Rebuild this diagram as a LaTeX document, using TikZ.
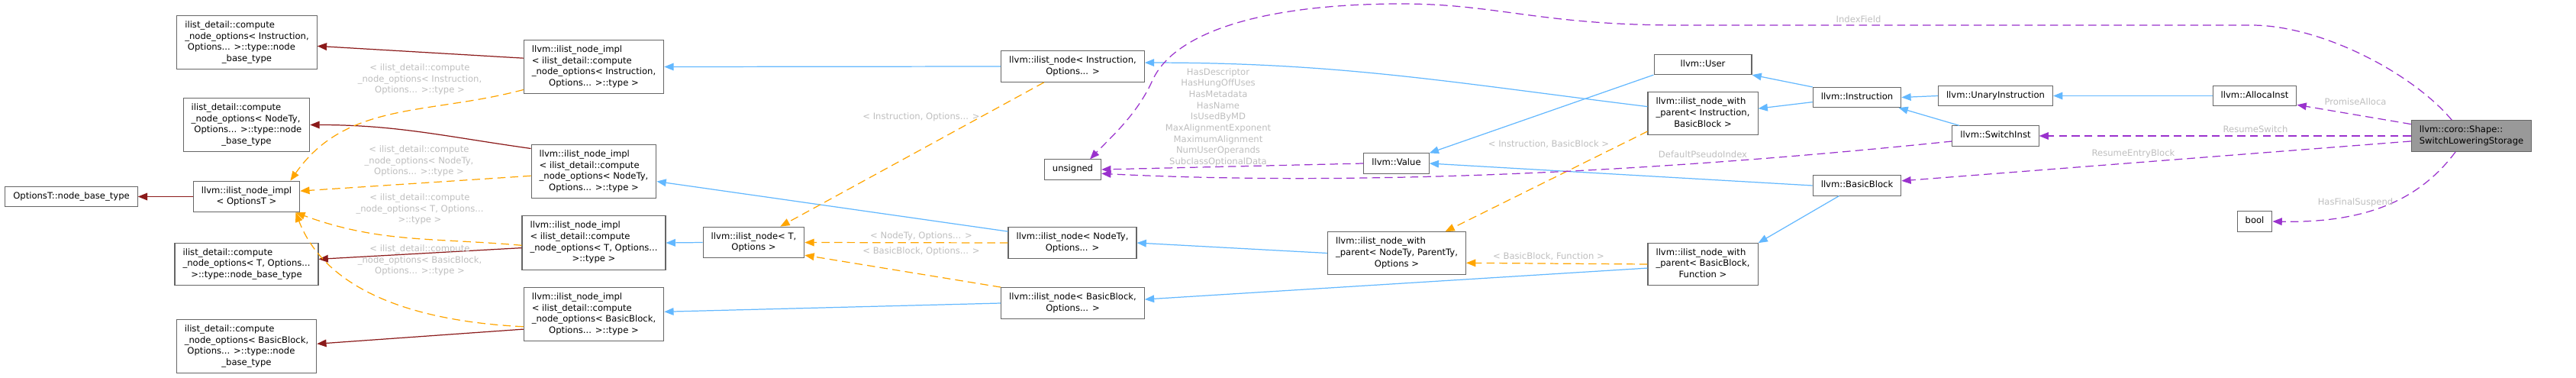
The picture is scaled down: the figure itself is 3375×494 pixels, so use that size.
\documentclass[tikz,border=0pt]{standalone}
\usepackage{fontspec}
\usepackage{tikz}
\usetikzlibrary{arrows.meta}
\newfontfamily\dxfont{DejaVu Sans}
\definecolor{edgepub}{HTML}{63B8FF}
\definecolor{edgepriv}{HTML}{8B1A1A}
\definecolor{edgetmpl}{HTML}{FFA500}
\definecolor{edgemem}{HTML}{9A32CD}
\definecolor{boxline}{HTML}{666666}
\definecolor{boxmain}{HTML}{999999}
\definecolor{lblgray}{HTML}{BEBEBE}
\newcommand{\dxtxt}{\dxfont\fontsize{6.6}{8.35}\selectfont}
% all lines left, last line centred (as dot does with \l ... \n)
\newcommand{\clsbox}[2]{\begin{tabular}{@{}l@{}}#1\\\multicolumn{1}{@{}c@{}}{#2}\end{tabular}}
\newcommand{\clsline}[1]{\begin{tabular}{@{}l@{}}#1\end{tabular}}
\tikzset{
  cls/.style  ={draw=boxline, line width=0.6pt, fill=white, font=\dxtxt,
                inner xsep=6pt, inner ysep=3.25pt},
  main/.style ={cls, fill=boxmain},
  edge/.style ={line width=0.7pt, -{Triangle[length=7pt,width=5.5pt]}},
  pub/.style  ={edge, draw=edgepub},
  priv/.style ={edge, draw=edgepriv},
  tmpl/.style ={edge, draw=edgetmpl, dash pattern=on 6pt off 3.5pt},
  mem/.style  ={edge, draw=edgemem, dash pattern=on 6pt off 3.5pt},
  lbl/.style  ={font=\dxtxt, text=lblgray, align=center, inner sep=0pt},
}

\begin{document}
\begin{tikzpicture}[x=0.02cm,y=-0.02cm]
  % one unit is one pixel of the doxygen picture, y runs downwards
  \useasboundingbox (0,0) rectangle (3375,494);

  % ---------------- left: node_options bases -------------------------------
  \node[cls] (cnoInstr)  at (323.5,55.5) {\clsbox{ilist\_detail::compute\\\_node\_options< Instruction,\\\ Options... >::type::node}{\_base\_type}};
  \node[cls] (cnoNodeTy) at (323,163.5)  {\clsbox{ilist\_detail::compute\\\_node\_options< NodeTy,\\\ Options... >::type::node}{\_base\_type}};
  \node[cls] (optBase)   at (93.5,257.5) {\clsline{OptionsT::node\_base\_type}};
  \node[cls] (implOpt)   at (323,257.5)  {\clsbox{llvm::ilist\_node\_impl}{< OptionsT >}};
  \node[cls] (cnoT)      at (323,346)    {\clsbox{ilist\_detail::compute\\\_node\_options< T, Options...}{>::type::node\_base\_type}};
  \node[cls] (cnoBB)     at (323,453.5)  {\clsbox{ilist\_detail::compute\\\_node\_options< BasicBlock,\\\ Options... >::type::node}{\_base\_type}};

  % ---------------- ilist_node_impl column ---------------------------------
  \node[cls] (implInstr)  at (778,87.5)  {\clsbox{llvm::ilist\_node\_impl\\< ilist\_detail::compute\\\_node\_options< Instruction,}{Options... >::type >}};
  \node[cls] (implNodeTy) at (778,224.5) {\clsbox{llvm::ilist\_node\_impl\\< ilist\_detail::compute\\\_node\_options< NodeTy,}{Options... >::type >}};
  \node[cls] (implT)      at (778,318)   {\clsbox{llvm::ilist\_node\_impl\\< ilist\_detail::compute\\\_node\_options< T, Options...}{>::type >}};
  \node[cls] (implBB)     at (778,411.5) {\clsbox{llvm::ilist\_node\_impl\\< ilist\_detail::compute\\\_node\_options< BasicBlock,}{Options... >::type >}};

  % ---------------- ilist_node column --------------------------------------
  \node[cls] (nodeT)      at (987.5,317.5) {\clsbox{llvm::ilist\_node< T,}{Options >}};
  \node[cls] (nodeInstr)  at (1405.5,87)   {\clsbox{llvm::ilist\_node< Instruction,}{Options... >}};
  \node[cls] (unsignedT)  at (1405.5,222)  {\clsline{unsigned}};
  \node[cls] (nodeNodeTy) at (1405,318)    {\clsbox{llvm::ilist\_node< NodeTy,}{Options... >}};
  \node[cls] (nodeBB)     at (1405.5,397)  {\clsbox{llvm::ilist\_node< BasicBlock,}{Options... >}};

  % ---------------- value / with_parent ------------------------------------
  \node[cls] (value)     at (1829.5,214) {\clsline{llvm::Value}};
  \node[cls] (withGen)   at (1830,331.5) {\clsbox{llvm::ilist\_node\_with\\\_parent< NodeTy, ParentTy,}{Options >}};
  \node[cls,minimum width=2.56cm] (user) at (2231,84.5) {\clsline{llvm::User}};
  \node[cls] (withInstr) at (2231,148.5) {\clsbox{llvm::ilist\_node\_with\\\_parent< Instruction,}{BasicBlock >}};
  \node[cls] (withBB)    at (2231,346)   {\clsbox{llvm::ilist\_node\_with\\\_parent< BasicBlock,}{Function >}};

  % ---------------- instructions, blocks, storage --------------------------
  \node[cls]  (instr)   at (2433,127.5)  {\clsline{llvm::Instruction}};
  \node[cls]  (bblock)  at (2433,243)    {\clsline{llvm::BasicBlock}};
  \node[cls]  (unary)   at (2614.5,125.5){\clsline{llvm::UnaryInstruction}};
  \node[cls]  (switchI) at (2614.5,178)  {\clsline{llvm::SwitchInst}};
  \node[cls]  (alloca)  at (2954,125.5)  {\clsline{llvm::AllocaInst}};
  \node[cls]  (boolT)   at (2954,290)    {\clsline{bool}};
  \node[main] (shape)   at (3238,178)    {\clsbox{llvm::coro::Shape::}{SwitchLoweringStorage}};

  % ---------------- private bases ------------------------------------------
  \draw[priv] (implInstr.173) -- (cnoInstr.-3);
  \draw[priv] (implNodeTy.160) to[out=172,in=0] (cnoNodeTy.east);
  \draw[priv] (implOpt.west) -- (optBase.east);
  \draw[priv] (implT.184) -- (cnoT.4);
  \draw[priv] (implBB.192) -- (cnoBB.2);

  % ---------------- public bases -------------------------------------------
  \draw[pub] (nodeInstr.west) -- (implInstr.east);
  \draw[pub] (nodeNodeTy.170) -- (implNodeTy.-9);
  \draw[pub] (nodeT.west) -- (implT.east);
  \draw[pub] (nodeBB.west) -- (implBB.2);
  \draw[pub] (withInstr.173) to[out=173,in=0] (nodeInstr.3);
  \draw[pub] (withGen.west) -- (nodeNodeTy.east);
  \draw[pub] (withBB.184) -- (nodeBB.3);
  \draw[pub] (user.south west) -- (value.north east);
  \draw[pub] (bblock.west) -- (value.east);
  \draw[pub] (instr.north west) -- (user.south east);
  \draw[pub] (instr.186) -- (withInstr.5);
  \draw[pub] (unary.west) -- (instr.east);
  \draw[pub] (switchI.164) -- (instr.-14);
  \draw[pub] (alloca.west) -- (unary.east);
  \draw[pub] (bblock.210) -- (withBB.21);

  % ---------------- template instances -------------------------------------
  \draw[tmpl] (implInstr.198) to[out=195,in=55] (implOpt.20);
  \draw[tmpl] (implNodeTy.184) -- (implOpt.6);
  \draw[tmpl] (implT.182) to[out=175,in=-20] (implOpt.-18);
  \draw[tmpl] (implBB.190) .. controls (530,420) and (425,375) .. (implOpt.-18);
  \draw[tmpl] (nodeInstr.209) -- (nodeT.31);
  \draw[tmpl] (nodeNodeTy.west) -- (nodeT.east);
  \draw[tmpl] (nodeBB.north west) -- (nodeT.-14);
  \draw[tmpl] (withInstr.198) -- (withGen.24);
  \draw[tmpl] (withBB.west) -- (withGen.-8);

  \node[lbl] (lImplInstr)  at (550,104)  {< ilist\_detail::compute\\\_node\_options< Instruction,\\Options... >::type >};
  \node[lbl] (lImplNodeTy) at (549,211)  {< ilist\_detail::compute\\\_node\_options< NodeTy,\\Options... >::type >};
  \node[lbl] (lImplT)      at (550,274)  {< ilist\_detail::compute\\\_node\_options< T, Options...\\>::type >};
  \node[lbl] (lImplBB)     at (550,341)  {< ilist\_detail::compute\\\_node\_options< BasicBlock,\\Options... >::type >};
  \node[lbl] (lNodeInstr)  at (1207,153) {< Instruction, Options... >};
  \node[lbl] (lNodeNodeTy) at (1207,309) {< NodeTy, Options... >};
  \node[lbl] (lNodeBB)     at (1207,329) {< BasicBlock, Options... >};
  \node[lbl] (lWithInstr)  at (2029,189) {< Instruction, BasicBlock >};
  \node[lbl] (lWithBB)     at (2029,336) {< BasicBlock, Function >};

  % ---------------- members ------------------------------------------------
  \draw[mem] (shape.141) .. controls (3160,95) and (3040,33) .. (2950,33) -- (2200,33)
        .. controls (2020,33) and (1960,5) .. (1837,5)
        .. controls (1660,5) and (1540,40) .. (1510,105)
        .. controls (1490,150) and (1455,180) .. (unsignedT.31);
  \draw[mem] (shape.west) -- (switchI.east);
  \draw[mem] (shape.169) -- (alloca.-12);
  \draw[mem] (shape.185) -- (bblock.6);
  \draw[mem] (shape.225) .. controls (3170,262) and (3100,292) .. (boolT.east);
  \draw[mem] (switchI.187) .. controls (2200,222) and (1800,245) .. (unsignedT.-8);
  \draw[mem] (value.west) -- (unsignedT.east);

  \node[lbl] (lIndex)   at (2435,25)  {IndexField};
  \node[lbl] (lSwitch)  at (2955,169) {ResumeSwitch};
  \node[lbl] (lPromise) at (3086,133) {PromiseAlloca};
  \node[lbl] (lEntry)   at (2795,201) {ResumeEntryBlock};
  \node[lbl] (lFinal)   at (3086,265) {HasFinalSuspend};
  \node[lbl] (lDefault) at (2231,202) {DefaultPseudoIndex};
  \node[lbl] (lValue)   at (1596,153.5) {HasDescriptor\\HasHungOffUses\\HasMetadata\\HasName\\IsUsedByMD\\MaxAlignmentExponent\\MaximumAlignment\\NumUserOperands\\SubclassOptionalData};
\end{tikzpicture}
\end{document}
